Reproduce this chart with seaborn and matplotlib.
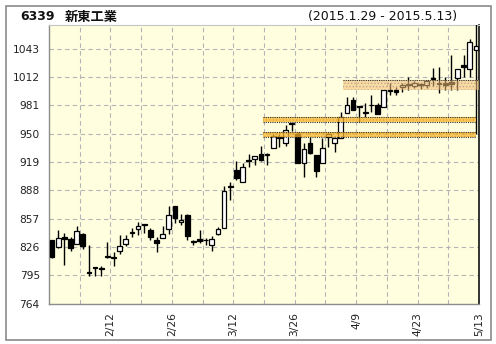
import numpy as np
import pandas as pd
import matplotlib
matplotlib.use("Agg")
import matplotlib.pyplot as plt
import seaborn as sns
from matplotlib.patches import Rectangle

# ---------------- data ----------------
dates = ["1/29", "1/30", "2/2", "2/3", "2/4", "2/5", "2/6", "2/9", "2/10", "2/12",
         "2/13", "2/16", "2/17", "2/18", "2/19", "2/20", "2/23", "2/24", "2/25", "2/26",
         "2/27", "3/2", "3/3", "3/4", "3/5", "3/6", "3/9", "3/10", "3/11", "3/12",
         "3/13", "3/16", "3/17", "3/18", "3/19", "3/20", "3/23", "3/24", "3/25", "3/26",
         "3/27", "3/30", "3/31", "4/1", "4/2", "4/3", "4/6", "4/7", "4/8", "4/9",
         "4/10", "4/13", "4/14", "4/15", "4/16", "4/17", "4/20", "4/21", "4/22", "4/23",
         "4/24", "4/27", "4/28", "4/30", "5/1", "5/7", "5/8", "5/11", "5/12", "5/13"]

opens = [833, 826, 837, 835, 829, 840, 798, 804, 803, 815,
         815, 821, 829, 841, 846, 851, 844, 833, 836, 846,
         870.5, 853, 861, 831, 835, 834, 828, 840, 847, 891.5,
         910, 897, 921, 922, 927.5, 926.5, 934, 945, 940, 961.5,
         950, 917.5, 940, 927, 918, 946.5, 939.5, 945.5, 973, 987,
         979.5, 973, 981, 981, 979, 997, 998, 1001, 1003, 1002,
         1004, 1003, 1010, 1004, 1005, 1007, 1010.5, 1025, 1021, 1042]
highs = [834, 845, 841, 837, 849, 841, 828, 804, 805, 831,
         820, 839, 839, 847, 853, 851.5, 847, 837, 849, 870.5,
         871, 861.5, 862.5, 834, 844, 836, 838, 848, 893, 897,
         920, 917.5, 928, 925.5, 936, 928.5, 950, 950, 959.5, 961.5,
         952, 939.5, 946.5, 927, 945, 951, 945, 974, 990.5, 990,
         980, 984, 992, 984, 998, 1006, 1001, 1005, 1012, 1008,
         1006, 1009, 1022, 1023, 1012, 1036, 1021, 1036, 1054, 1090]
lows = [814, 825, 806, 822, 829, 824, 794, 794, 794, 814,
        805, 818, 827, 837, 839, 841, 834, 820.5, 836, 840.5,
        852, 850, 834, 828, 830, 828, 822, 839.5, 847, 877,
        899, 897, 913, 915.5, 920, 915.5, 934, 935, 936.5, 953,
        918, 902, 928, 902.5, 918, 935, 930, 945, 973, 976,
        963, 968.5, 974, 971, 979, 992, 992, 996, 998, 1000,
        999, 1000, 1002, 994, 998, 998, 998, 1012, 1012, 950]
closes = [815, 836, 835, 825, 843.5, 827, 797, 803, 802, 815.5,
          814, 827, 834.5, 841.5, 849, 849.5, 837, 830, 840, 861,
          858, 855, 838, 831.5, 832.5, 833, 835, 846, 887, 892.5,
          901, 914, 920, 925.5, 921, 927, 947, 945.5, 954, 960.5,
          918, 933, 928.5, 909, 934, 949.5, 945, 968.5, 981.5, 976,
          979, 973.5, 981.5, 971.5, 998, 998, 996, 1003, 1004, 1006,
          1003, 1008, 1011, 1005, 1003, 1004, 1021, 1022.5, 1050, 1046]

# price zones (support / resistance bands)
zone_low = [946.5, 963.0, 998.0]
zone_high = [952.0, 968.5, 1009.0]
zone_from = ["3/19", "3/19", "4/7"]
zone_kind = ["line", "line", "cloud"]

ytick_vals = [764, 795, 826, 857, 888, 919, 950, 981, 1012, 1043]
label_dates = ["2/12", "2/26", "3/12", "3/26", "4/9", "4/23", "5/13"]
title_code = "6339"
title_name = "新東工業"
period_text = "(2015.1.29 - 2015.5.13)"

# ---------------- style ----------------
sns.set_theme(style="white")
plt.rcParams["font.family"] = ["DejaVu Sans", "Noto Sans CJK JP"]
plt.rcParams["hatch.linewidth"] = 0.6

df = pd.DataFrame(dict(date=dates, open=opens, high=highs, low=lows, close=closes))
df["x"] = np.arange(len(df))
pos = {d: i for i, d in enumerate(dates)}

fig = plt.figure(figsize=(4.96, 3.44), dpi=100)
fig.patch.set_facecolor("white")
ax = fig.add_axes([49 / 496, 1 - 303.5 / 344, 430 / 496, 278.5 / 344])
ax.set_facecolor("#ffffe0")

# grid
ax.set_yticks(ytick_vals)
ax.set_ylim(764, 1069)
grid_pos = [i + 0.5 for i in range(4, len(dates), 5)]
ax.set_xticks(grid_pos)
ax.set_xticklabels(["" if dates[int(p - 0.5)] not in label_dates else dates[int(p - 0.5)]
                    for p in grid_pos], rotation=90)
ax.set_xlim(-0.5, len(dates) - 0.5)
ax.grid(True, color="#b4b4b4", linestyle=(0, (4, 3)), linewidth=0.8)
ax.set_axisbelow(True)

# candles
up = (df.close >= df.open).values
body_bottom = np.minimum(df.open, df.close)
body_h = np.maximum(np.abs(df.close - df.open), 0.9)
ax.vlines(df.x, df.low, df.high, color="black", linewidth=1.0, zorder=3)
ax.bar(df.x, body_h, bottom=body_bottom, width=0.78,
       color=np.where(up, "white", "black"), edgecolor="black",
       linewidth=0.9, zorder=4)

# zones
last = len(dates) - 1
for lo, hi, start, kind in zip(zone_low, zone_high, zone_from, zone_kind):
    x0 = pos[start] + 0.4
    if kind == "line":
        x1 = last
        face, alpha, hcol = "#f7b52a", 0.72, "#e08a00"
    else:
        x1 = last + 0.6
        face, alpha, hcol = "#f2bd74", 0.55, "#a08870"
    ax.fill_between([x0, x1], lo, hi, facecolor=face, alpha=alpha,
                    edgecolor="none", zorder=5)
    ax.fill_between([x0, x1], lo, hi, facecolor="none", hatch=".....",
                    edgecolor=hcol, linewidth=0, alpha=0.55, zorder=5)
    ax.plot([x0, x1], [hi, hi], color="#333333", linestyle=(0, (1, 1)),
            linewidth=0.8, zorder=6)
    if kind == "line":
        ax.plot([x0, x1], [lo, lo], color="#333333", linestyle=(0, (1, 1)),
                linewidth=0.8, zorder=6)

# axes styling
for side in ["left", "bottom"]:
    ax.spines[side].set_color("#8c8c8c")
    ax.spines[side].set_linewidth(1.0)
ax.spines["top"].set_color("#c4c4c4")
ax.spines["top"].set_linewidth(0.8)
ax.spines["right"].set_color("#111111")
ax.spines["right"].set_linewidth(1.2)
ax.tick_params(axis="both", which="both", direction="out", length=3.2,
               width=0.9, color="#8c8c8c", labelsize=7.7, labelcolor="#222222")
ax.tick_params(axis="y", pad=3.4)
ax.tick_params(axis="x", pad=3.0)
ax.set_xlabel("")
ax.set_ylabel("")

# titles
fig.text(20 / 496, 1 - 20.5 / 344, title_code, fontsize=9, fontweight="bold",
         color="#111111", va="baseline", ha="left")
fig.text(65 / 496, 1 - 20.5 / 344, title_name, fontsize=9.5, fontweight="bold",
         color="#111111", va="baseline", ha="left",
         family=["Noto Sans CJK JP", "DejaVu Sans"])
fig.text(457 / 496, 1 - 20 / 344, period_text, fontsize=9, color="#111111",
         va="baseline", ha="right")

# outer frame
fig.patches.append(Rectangle((5.5 / 496, 4.5 / 344), 485.5 / 496, 334 / 344,
                             transform=fig.transFigure, fill=False,
                             edgecolor="#8a8a8a", linewidth=1.2))

fig.savefig("out.png", dpi=100, facecolor="white")
